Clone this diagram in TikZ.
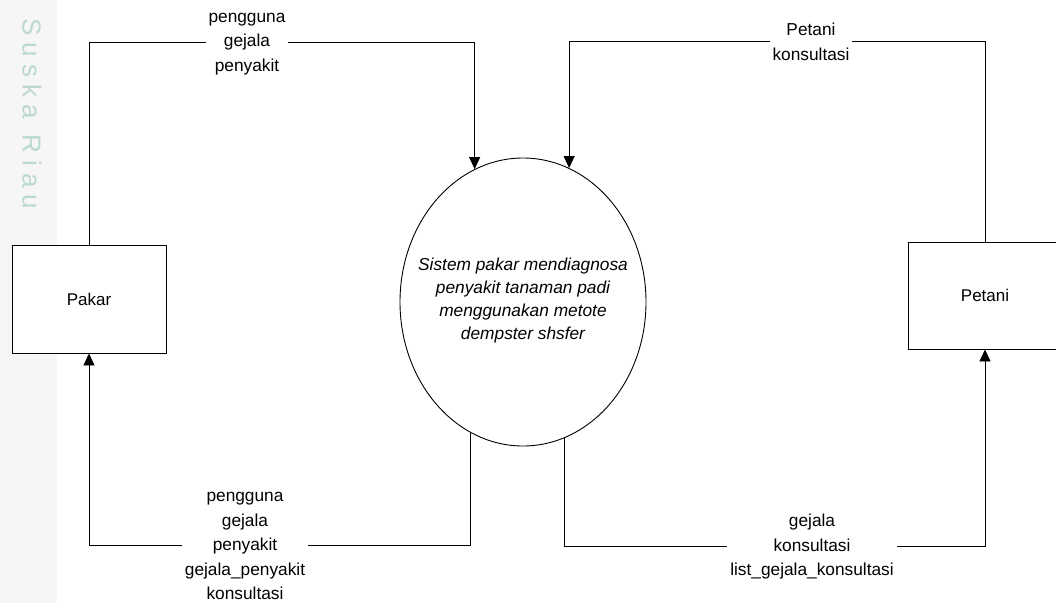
\documentclass[tikz,border=0pt]{standalone}
\usepackage{fontspec}
\setmainfont{Liberation Sans}
\usetikzlibrary{arrows.meta,shapes.geometric}
\definecolor{wmstrip}{HTML}{F5F6F5}
\definecolor{wmtext}{HTML}{BCD9CE}
\tikzset{
  entity/.style={draw, line width=0.9pt, fill=white, minimum width=154pt, inner sep=0pt, font=\fontsize{17}{24}\selectfont},
  process/.style={draw, ellipse, line width=0.9pt, fill=white, minimum width=246pt, minimum height=288pt, inner sep=0pt},
  flow/.style={line width=0.9pt, -{Triangle[width=11pt,length=12pt]}},
  flowlabel/.style={fill=white, align=center, inner xsep=3pt, inner ysep=1pt, font=\fontsize{17.3}{24.5}\selectfont},
}
\begin{document}
\begin{tikzpicture}[x=1pt,y=-1pt]
\clip (0,0) rectangle (1056,603);
\fill[white] (0,0) rectangle (1056,603);
\fill[wmstrip] (0,0) rectangle (57,603);
\node[text=wmtext, rotate=-90, font=\fontsize{26}{26}\selectfont] (wm) at (32,114) {S\hspace{7pt}u\hspace{7pt}s\hspace{7pt}k\hspace{7pt}a\hspace{16pt}R\hspace{7pt}i\hspace{7pt}a\hspace{7pt}u};
% nodes
\node[entity, minimum height=108pt] (pakar) at (89,299) {Pakar};
\node[entity, minimum height=107pt] (petani) at (985,295.5) {Petani};
\node[process] (proc) at (523,302) {};
\node[align=center, font=\itshape\fontsize{17.3}{23}\selectfont] (proctext) at (523,301) {Sistem pakar mendiagnosa\\penyakit tanaman padi\\menggunakan metote\\dempster shsfer};
% flows
\draw[flow] (pakar.north) -- ++(0,-202) -| (proc.110.8);
\draw[flow] (petani.north) -- ++(0,-200) -| (proc.71);
\draw[flow] (proc.248.7) |- (pakar.south |- 0,545) -- (pakar.south);
\draw[flow] (proc.287.2) |- (petani.south |- 0,546) -- (petani.south);
% labels
\node[flowlabel] (l1) at (247,44) {pengguna\\gejala\\penyakit};
\node[flowlabel] (l2) at (811,42) {Petani\\konsultasi};
\node[flowlabel] (l3) at (245,546) {pengguna\\gejala\\penyakit\\gejala\_penyakit\\konsultasi};
\node[flowlabel] (l4) at (812,547) {gejala\\konsultasi\\list\_gejala\_konsultasi};
\end{tikzpicture}
\end{document}
